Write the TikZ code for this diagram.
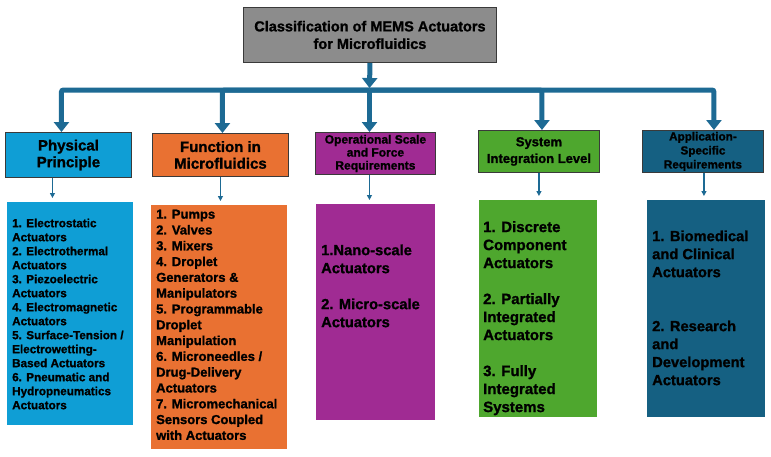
\documentclass[tikz,border=0pt]{standalone}
\usepackage{fontspec}
\setmainfont{Liberation Sans}[BoldFeatures={FakeBold=1.2}]
\usetikzlibrary{arrows.meta,calc}
\definecolor{cconn}{HTML}{1D6A94}
\definecolor{ctitle}{HTML}{8C8C8C}
\definecolor{hdrborder}{HTML}{3A3A3A}
\definecolor{cblue}{HTML}{0F9ED5}
\definecolor{corange}{HTML}{E97132}
\definecolor{cpurple}{HTML}{A02B93}
\definecolor{cgreen}{HTML}{4EA72E}
\definecolor{cdark}{HTML}{156082}
\begin{document}
\begin{tikzpicture}[x=1pt,y=-1pt,
  box/.style={draw=hdrborder,line width=0.9pt,anchor=north west,inner sep=0pt,align=center,text=black},
  listbox/.style={anchor=north west,inner sep=0pt,draw=none},
  listtext/.style={anchor=north west,inner sep=0pt,align=left,text=black},
  thickconn/.style={draw=cconn,line width=5pt,-{Triangle[width=15pt,length=10pt]}},
  thinconn/.style={draw=cconn,line width=1.2pt,-{Triangle[width=5pt,length=5pt]},shorten >=4pt}
]
\useasboundingbox[fill=white] (0,0) rectangle (771,456);

% title
\node[box,fill=ctitle,minimum width=253pt,minimum height=55pt,font={\fontsize{14.5}{17.5}\selectfont\bfseries}] (title) at (243,7) {Classification of MEMS Actuators\\for Microfluidics};

% headers
\node[box,fill=cblue,minimum width=126pt,minimum height=45pt,font={\fontsize{15}{16.7}\selectfont\bfseries}] (phys) at (5,132) {Physical\\Principle};
\node[box,fill=corange,minimum width=136pt,minimum height=43pt,font={\fontsize{15}{16.7}\selectfont\bfseries}] (func) at (152,133) {Function in\\Microfluidics};
\node[box,fill=cpurple,minimum width=120pt,minimum height=42pt,font={\fontsize{12}{13}\selectfont\bfseries}] (oper) at (315,132) {Operational Scale\\and Force\\Requirements};
\node[box,fill=cgreen,minimum width=121pt,minimum height=42pt,font={\fontsize{13}{16.7}\selectfont\bfseries}] (sys) at (478,130) {System\\Integration Level};
\node[box,fill=cdark,minimum width=121pt,minimum height=42pt,font={\fontsize{11.7}{14}\selectfont\bfseries}] (app) at (642,130) {Application-\\Specific\\Requirements};

% list boxes
\node[listbox,fill=cblue,minimum width=126pt,minimum height=223pt] (physL) at (7,202) {};
\node[listbox,fill=corange,minimum width=136pt,minimum height=244pt] (funcL) at (151,205) {};
\node[listbox,fill=cpurple,minimum width=119pt,minimum height=216pt] (operL) at (316,204) {};
\node[listbox,fill=cgreen,minimum width=118pt,minimum height=217pt] (sysL) at (479,200) {};
\node[listbox,fill=cdark,minimum width=118pt,minimum height=217pt] (appL) at (647,200) {};

% list texts
\node[listtext,font={\fontsize{11.7}{14}\selectfont\bfseries}] (physT) at ($(physL.north west)+(5,16.5)$) {1. Electrostatic\\Actuators\\2. Electrothermal\\Actuators\\3. Piezoelectric\\Actuators\\4. Electromagnetic\\Actuators\\5. Surface-Tension /\\Electrowetting-\\Based Actuators\\6. Pneumatic and\\Hydropneumatics\\Actuators};
\node[listtext,font={\fontsize{13}{15.8}\selectfont\bfseries}] (funcT) at ($(funcL.north west)+(5,4.5)$) {1. Pumps\\2. Valves\\3. Mixers\\4. Droplet\\Generators \&\\Manipulators\\5. Programmable\\Droplet\\Manipulation\\6. Microneedles /\\Drug-Delivery\\Actuators\\7. Micromechanical\\Sensors Coupled\\with Actuators};
\node[listtext,font={\fontsize{14.7}{18}\selectfont\bfseries}] (operT) at ($(operL.north west)+(5,40.3)$) {1.Nano-scale\\Actuators\\[18pt]2. Micro-scale\\Actuators};
\node[listtext,font={\fontsize{15}{18}\selectfont\bfseries}] (sysT) at ($(sysL.north west)+(4,21)$) {1. Discrete\\Component\\Actuators\\[18pt]2. Partially\\Integrated\\Actuators\\[18pt]3. Fully\\Integrated\\Systems};
\node[listtext,font={\fontsize{14.7}{18}\selectfont\bfseries}] (appT) at ($(appL.north west)+(5,30.3)$) {1. Biomedical\\and Clinical\\Actuators\\[36pt]2. Research\\and\\Development\\Actuators};

% thick connectors
\coordinate (bj) at (369.5,90);
\draw[thickconn,shorten >=2pt] (title.south) -- (bj);
\draw[thickconn,rounded corners=2pt] (bj) -| ([xshift=-7pt]phys.north);
\draw[thickconn,rounded corners=2pt] (bj) -| ([xshift=2pt]func.north);
\draw[thickconn] (bj) -- (bj |- oper.north);
\draw[thickconn,rounded corners=2pt] (bj) -| ([xshift=3pt]sys.north);
\draw[thickconn,rounded corners=2pt] (bj) -| ([xshift=11pt]app.north);

% thin connectors
\coordinate (pa) at ($(phys.south)+(-16,0)$);
\coordinate (fa) at ($(func.south)+(0,0)$);
\coordinate (oa) at ($(oper.south)+(-6,0)$);
\coordinate (sa) at ($(sys.south)+(0,0)$);
\coordinate (aa) at ($(app.south)+(1,0)$);
\draw[thinconn] (pa) -- (pa |- physL.north);
\draw[thinconn] (fa) -- (fa |- funcL.north);
\draw[thinconn] (oa) -- (oa |- operL.north);
\draw[thinconn] (sa) -- (sa |- sysL.north);
\draw[thinconn] (aa) -- (aa |- appL.north);
\end{tikzpicture}
\end{document}
